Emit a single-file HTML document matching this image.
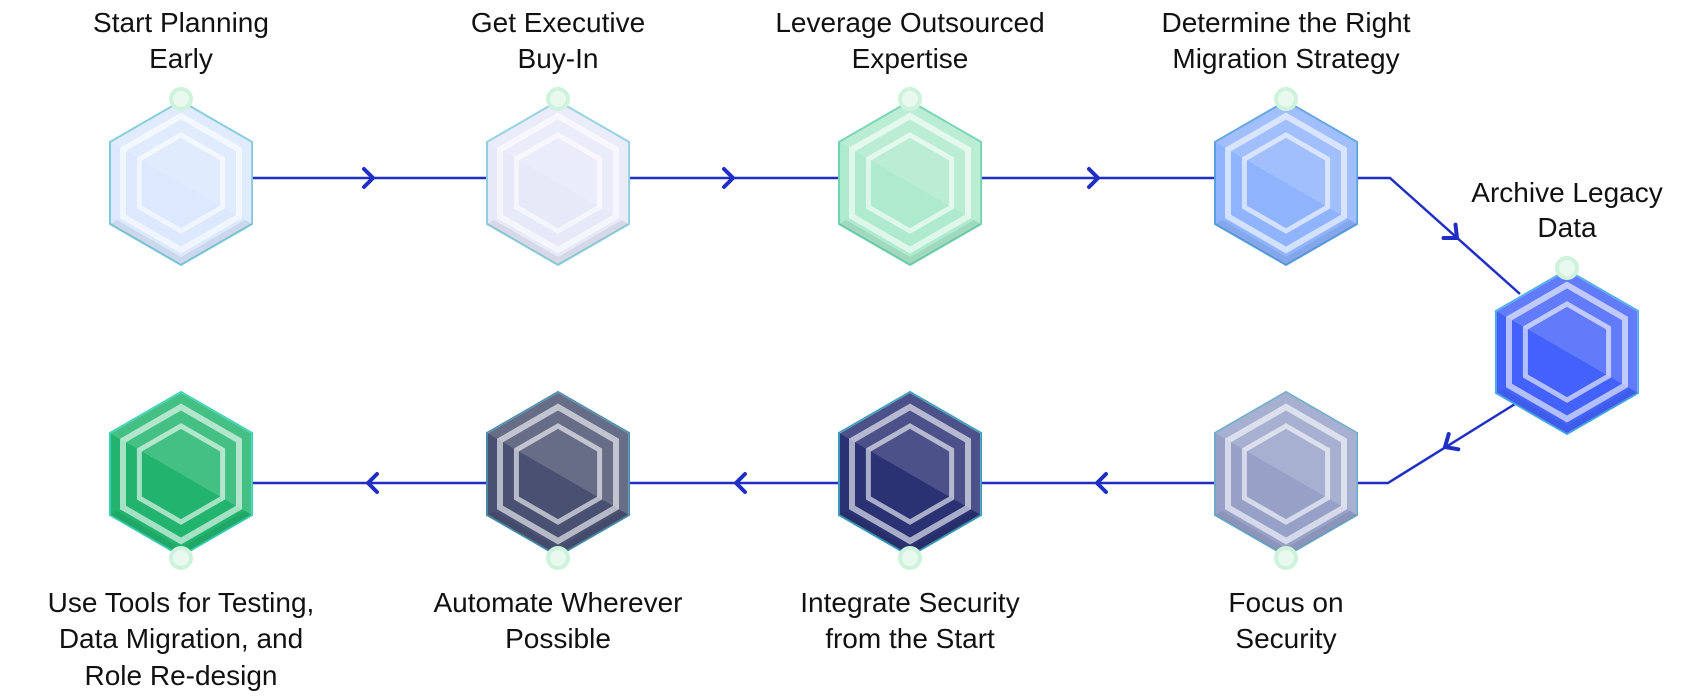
<!DOCTYPE html>
<html><head><meta charset="utf-8"><style>
html,body{margin:0;padding:0;background:#fff;width:1700px;height:700px;overflow:hidden}
text{font-family:"Liberation Sans",sans-serif;font-size:28px;fill:#111;text-anchor:middle}
</style></head><body>
<svg width="1700" height="700" viewBox="0 0 1700 700" xmlns="http://www.w3.org/2000/svg">
<defs>
<g id="deco">
  <polygon points="-71,-41 0,-82 71,-41 71,41" fill="#fff" opacity="0.16"/>
  <polygon points="71,41 0,82 -71,41 -64,37 0,74 64,37" fill="#000" opacity="0.07"/>
  <polygon points="0,-67 58,-33.5 58,33.5 0,67 -58,33.5 -58,-33.5" fill="none" stroke="#fff" stroke-opacity="0.6" stroke-width="6"/>
  <polygon points="0,-48 41.6,-24 41.6,24 0,48 -41.6,24 -41.6,-24" fill="none" stroke="#fff" stroke-opacity="0.6" stroke-width="5"/>
</g>
<g id="dotT"><circle cx="0" cy="-84" r="10" fill="#eaf9ef" stroke="#cdf3dc" stroke-width="4"/></g>
<g id="dotB"><circle cx="0" cy="84" r="10" fill="#eaf9ef" stroke="#cdf3dc" stroke-width="4"/></g>
</defs>
<g stroke="#1f2fc4" stroke-width="2.5" fill="none">
  <line x1="252" y1="178" x2="1215" y2="178"/>
  <polyline points="1358,178 1390,178 1520,294"/>
  <polyline points="1515,404 1388,483 1215,483"/>
  <line x1="252" y1="483" x2="1215" y2="483"/>
</g>
<g stroke="#1f2fc4" stroke-width="4" fill="none" stroke-linecap="round">
  <polyline points="364,169 373,178 364,187"/>
  <polyline points="724,169 733,178 724,187"/>
  <polyline points="1089,169 1098,178 1089,187"/>
  <polyline points="377,474 368,483 377,492"/>
  <polyline points="745,474 736,483 745,492"/>
  <polyline points="1106,474 1097,483 1106,492"/>
  <polyline points="1443.5,238 1457,238 1455.5,224.6"/>
  <polyline points="1448.7,434.1 1445,447 1458.3,449.3"/>
</g>
<g transform="translate(181,183)"><polygon points="0,-82 71,-41 71,41 0,82 -71,41 -71,-41" fill="#dbe8fd" stroke="#7ecadc" stroke-width="2"/><use href="#deco"/><use href="#dotT"/></g>
<g transform="translate(558,183)"><polygon points="0,-82 71,-41 71,41 0,82 -71,41 -71,-41" fill="#e6e9f8" stroke="#8fcfe0" stroke-width="2"/><use href="#deco"/><use href="#dotT"/></g>
<g transform="translate(910,183)"><polygon points="0,-82 71,-41 71,41 0,82 -71,41 -71,-41" fill="#aeeacd" stroke="#6fd3b0" stroke-width="2"/><use href="#deco"/><use href="#dotT"/></g>
<g transform="translate(1286,183)"><polygon points="0,-82 71,-41 71,41 0,82 -71,41 -71,-41" fill="#8fb3fd" stroke="#5aa0e0" stroke-width="2"/><use href="#deco"/><use href="#dotT"/></g>
<g transform="translate(1567,352)"><polygon points="0,-82 71,-41 71,41 0,82 -71,41 -71,-41" fill="#4362fb" stroke="#4aa8f0" stroke-width="2"/><use href="#deco"/><use href="#dotT"/></g>
<g transform="translate(1286,474)"><polygon points="0,-82 71,-41 71,41 0,82 -71,41 -71,-41" fill="#97a1c7" stroke="#6fa8c8" stroke-width="2"/><use href="#deco"/><use href="#dotB"/></g>
<g transform="translate(910,474)"><polygon points="0,-82 71,-41 71,41 0,82 -71,41 -71,-41" fill="#2a3273" stroke="#3a9ab8" stroke-width="2"/><use href="#deco"/><use href="#dotB"/></g>
<g transform="translate(558,474)"><polygon points="0,-82 71,-41 71,41 0,82 -71,41 -71,-41" fill="#4a5071" stroke="#4a8aa8" stroke-width="2"/><use href="#deco"/><use href="#dotB"/></g>
<g transform="translate(181,474)"><polygon points="0,-82 71,-41 71,41 0,82 -71,41 -71,-41" fill="#22b46e" stroke="#3ad0b0" stroke-width="2"/><use href="#deco"/><use href="#dotB"/></g>
<text x="181" y="32">Start Planning</text><text x="181" y="68">Early</text>
<text x="558" y="32">Get Executive</text><text x="558" y="68">Buy-In</text>
<text x="910" y="32">Leverage Outsourced</text><text x="910" y="68">Expertise</text>
<text x="1286" y="32">Determine the Right</text><text x="1286" y="68">Migration Strategy</text>
<text x="1567" y="202">Archive Legacy</text><text x="1567" y="237">Data</text>
<text x="1286" y="612">Focus on</text><text x="1286" y="648">Security</text>
<text x="910" y="612">Integrate Security</text><text x="910" y="648">from the Start</text>
<text x="558" y="612">Automate Wherever</text><text x="558" y="648">Possible</text>
<text x="181" y="612">Use Tools for Testing,</text><text x="181" y="648">Data Migration, and</text><text x="181" y="685">Role Re-design</text>
</svg>
</body></html>
